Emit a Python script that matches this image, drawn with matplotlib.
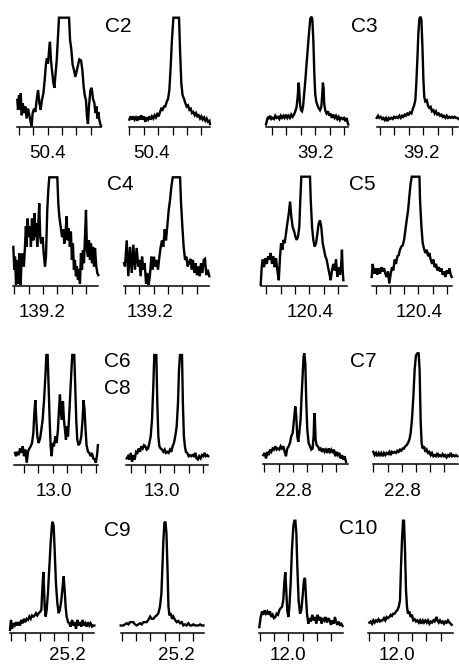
#!/usr/bin/env python3

import matplotlib
matplotlib.use("Agg")
import matplotlib.pyplot as plt

W, H = 459, 665

#-------------------------------------------------------------
# traces: (shift in tick units, height in % of panel)
# tick marks sit at 0..5 on every panel
c2_a = [(-0.12, 25), (-0.07, 16), (0.0, 29), (0.07, 16), (0.12, 31), (0.19, 11),
        (0.26, 22), (0.35, 13), (0.44, 19), (0.53, 8), (0.63, 17), (0.72, 11),
        (0.81, 5), (0.88, 1), (0.95, 13), (1.05, 17), (1.14, 14), (1.23, 25),
        (1.33, 34), (1.42, 22), (1.51, 16), (1.60, 25), (1.70, 31), (1.79, 43),
        (1.88, 58), (1.95, 63), (2.02, 58), (2.12, 74), (2.16, 78), (2.23, 61),
        (2.30, 52), (2.40, 40), (2.47, 36), (2.53, 46), (2.63, 61), (2.72, 83),
        (2.79, 100), (3.49, 100), (3.56, 80), (3.65, 71), (3.74, 57), (3.84, 52),
        (3.93, 46), (4.02, 51), (4.12, 57), (4.21, 62), (4.33, 61), (4.42, 52),
        (4.51, 37), (4.60, 28), (4.67, 25), (4.74, 10), (4.81, 3), (4.88, 19),
        (4.98, 34), (5.07, 36), (5.16, 26), (5.26, 22), (5.33, 13), (5.40, 19),
        (5.47, 8), (5.53, 14), (5.60, 7), (5.67, 3), (5.72, 1)]
c2_b = [(0.0, 7), (0.09, 10), (0.19, 7), (0.28, 10), (0.37, 7), (0.46, 9),
        (0.56, 6), (0.65, 10), (0.74, 7), (0.83, 11), (0.93, 7), (1.02, 10),
        (1.11, 5), (1.20, 9), (1.30, 7), (1.39, 10), (1.48, 7), (1.57, 10),
        (1.67, 8), (1.76, 11), (1.85, 9), (1.94, 12), (2.04, 10), (2.13, 14),
        (2.22, 17), (2.31, 16), (2.41, 19), (2.50, 19), (2.59, 23), (2.69, 26),
        (2.78, 34), (2.87, 55), (2.96, 80), (3.06, 100), (3.45, 100), (3.52, 71),
        (3.61, 40), (3.70, 29), (3.80, 26), (3.89, 22), (3.98, 19), (4.07, 20),
        (4.17, 16), (4.26, 17), (4.35, 13), (4.44, 14), (4.54, 11), (4.63, 13),
        (4.72, 10), (4.81, 11), (4.91, 8), (5.0, 10), (5.09, 7), (5.19, 9),
        (5.28, 6), (5.37, 8), (5.46, 5), (5.56, 6), (5.60, 3)]
c3_a = [(-0.39, 2), (-0.32, 6), (-0.25, 9), (-0.18, 7), (-0.11, 10), (-0.02, 7),
        (0.07, 8), (0.16, 7), (0.25, 10), (0.34, 8), (0.44, 9), (0.53, 7),
        (0.62, 10), (0.71, 8), (0.80, 10), (0.89, 8), (0.99, 11), (1.08, 8),
        (1.17, 10), (1.26, 8), (1.35, 11), (1.44, 9), (1.54, 11), (1.63, 14),
        (1.72, 18), (1.79, 27), (1.86, 40), (1.90, 33), (1.95, 21), (2.02, 15),
        (2.09, 14), (2.16, 18), (2.22, 27), (2.32, 42), (2.41, 58), (2.50, 73),
        (2.59, 88), (2.66, 98), (2.73, 100), (2.80, 98), (2.87, 79), (2.94, 48),
        (3.00, 30), (3.07, 23), (3.14, 20), (3.23, 17), (3.33, 15), (3.42, 18),
        (3.49, 30), (3.53, 40), (3.58, 35), (3.62, 21), (3.69, 15), (3.78, 12),
        (3.88, 14), (3.97, 10), (4.06, 12), (4.15, 8), (4.24, 11), (4.34, 8),
        (4.43, 10), (4.52, 7), (4.61, 9), (4.70, 6), (4.79, 8), (4.89, 7),
        (4.98, 8), (5.07, 5), (5.16, 8), (5.23, 4), (5.28, 2)]
c3_b = [(-0.23, 8), (-0.14, 10), (-0.05, 8), (0.05, 9), (0.14, 7), (0.23, 8),
        (0.32, 6), (0.41, 8), (0.51, 5), (0.60, 8), (0.69, 7), (0.78, 8),
        (0.88, 7), (0.97, 9), (1.06, 8), (1.15, 9), (1.24, 8), (1.34, 10),
        (1.43, 8), (1.52, 10), (1.61, 9), (1.71, 11), (1.80, 10), (1.89, 12),
        (1.98, 11), (2.07, 13), (2.17, 12), (2.26, 16), (2.35, 19), (2.44, 24),
        (2.51, 40), (2.58, 61), (2.65, 85), (2.72, 98), (2.79, 100), (2.86, 97),
        (2.93, 73), (3.00, 42), (3.06, 27), (3.13, 23), (3.23, 24), (3.32, 19),
        (3.41, 17), (3.50, 18), (3.59, 14), (3.69, 15), (3.78, 12), (3.87, 14),
        (3.96, 11), (4.06, 12), (4.15, 10), (4.24, 11), (4.33, 9), (4.42, 10),
        (4.52, 8), (4.61, 10), (4.70, 8), (4.79, 9), (4.88, 8), (4.98, 9),
        (5.07, 8), (5.16, 9), (5.25, 8), (5.35, 8), (5.41, 7)]
c4_a = [(-0.07, 36), (0.0, 15), (0.05, 27), (0.12, 1), (0.21, 24), (0.28, 2),
        (0.35, 30), (0.44, 1), (0.51, 24), (0.58, 30), (0.67, 18), (0.74, 35),
        (0.81, 55), (0.86, 36), (0.93, 62), (1.00, 45), (1.09, 55), (1.16, 36),
        (1.23, 62), (1.33, 42), (1.40, 67), (1.47, 45), (1.53, 58), (1.60, 36),
        (1.67, 55), (1.74, 76), (1.81, 45), (1.88, 39), (1.98, 45), (2.05, 30),
        (2.14, 18), (2.21, 27), (2.30, 70), (2.37, 88), (2.44, 100), (3.00, 100),
        (3.07, 76), (3.14, 64), (3.23, 55), (3.33, 45), (3.42, 52), (3.49, 39),
        (3.58, 50), (3.65, 64), (3.72, 42), (3.79, 53), (3.88, 36), (3.95, 50),
        (4.02, 24), (4.09, 39), (4.16, 15), (4.23, 24), (4.30, 9), (4.37, 18),
        (4.44, 6), (4.51, 15), (4.58, 2), (4.65, 30), (4.72, 15), (4.79, 33),
        (4.86, 21), (4.93, 45), (5.00, 70), (5.07, 33), (5.14, 27), (5.21, 42),
        (5.28, 24), (5.35, 39), (5.42, 21), (5.49, 36), (5.56, 18), (5.63, 35),
        (5.72, 18), (5.79, 12), (5.86, 10)]
c4_b = [(-0.07, 21), (0.0, 18), (0.12, 42), (0.23, 9), (0.35, 36), (0.47, 12),
        (0.58, 38), (0.70, 15), (0.81, 35), (0.93, 18), (1.00, 24), (1.09, 9),
        (1.19, 27), (1.28, 15), (1.37, 21), (1.47, 2), (1.56, 12), (1.65, 1),
        (1.74, 10), (1.84, 27), (1.93, 15), (2.02, 27), (2.12, 18), (2.21, 24),
        (2.30, 15), (2.40, 27), (2.49, 36), (2.58, 42), (2.67, 36), (2.77, 52),
        (2.86, 42), (2.95, 55), (3.05, 70), (3.14, 79), (3.23, 91), (3.33, 100),
        (3.84, 100), (3.91, 76), (4.00, 55), (4.09, 36), (4.19, 24), (4.28, 27),
        (4.37, 18), (4.47, 22), (4.56, 25), (4.65, 15), (4.74, 24), (4.84, 12),
        (4.93, 21), (5.02, 10), (5.12, 18), (5.21, 9), (5.30, 21), (5.40, 12),
        (5.49, 24), (5.58, 25), (5.67, 10), (5.77, 15), (5.88, 9)]
c5_a = [(-0.37, 1), (-0.30, 17), (-0.23, 24), (-0.14, 17), (-0.05, 25), (0.05, 20),
        (0.14, 27), (0.23, 24), (0.32, 30), (0.41, 20), (0.51, 27), (0.60, 17),
        (0.69, 25), (0.78, 14), (0.88, 5), (0.97, 27), (1.04, 39), (1.13, 33),
        (1.20, 42), (1.29, 39), (1.38, 48), (1.47, 57), (1.57, 66), (1.66, 77),
        (1.75, 63), (1.84, 54), (1.94, 50), (2.03, 45), (2.12, 42), (2.21, 45),
        (2.30, 54), (2.37, 79), (2.44, 100), (3.04, 100), (3.09, 79), (3.18, 54),
        (3.27, 42), (3.36, 36), (3.46, 39), (3.55, 48), (3.64, 57), (3.73, 60),
        (3.82, 54), (3.92, 39), (4.01, 33), (4.10, 27), (4.19, 24), (4.29, 17),
        (4.38, 11), (4.47, 5), (4.56, 14), (4.65, 20), (4.75, 14), (4.84, 24),
        (4.93, 8), (5.02, 17), (5.12, 10), (5.21, 22), (5.25, 33), (5.30, 14),
        (5.35, 5)]
c5_b = [(-0.28, 8), (-0.21, 20), (-0.14, 14), (-0.07, 11), (0.02, 16), (0.12, 10),
        (0.21, 16), (0.31, 11), (0.40, 17), (0.49, 13), (0.59, 16), (0.68, 11),
        (0.77, 8), (0.87, 13), (0.96, 2), (1.06, 11), (1.15, 17), (1.24, 14),
        (1.34, 24), (1.43, 20), (1.53, 27), (1.62, 28), (1.71, 33), (1.81, 36),
        (1.90, 37), (2.00, 42), (2.09, 51), (2.18, 60), (2.28, 69), (2.37, 82),
        (2.46, 94), (2.54, 100), (3.08, 100), (3.12, 79), (3.22, 54), (3.31, 39),
        (3.40, 34), (3.50, 30), (3.59, 33), (3.69, 27), (3.78, 30), (3.87, 24),
        (3.97, 20), (4.06, 24), (4.15, 17), (4.25, 20), (4.34, 14), (4.44, 17),
        (4.53, 13), (4.62, 16), (4.72, 10), (4.81, 13), (4.91, 8), (5.00, 14),
        (5.09, 11), (5.19, 16), (5.28, 10), (5.35, 8)]
c6_a = [(-0.63, 11), (-0.56, 8), (-0.47, 12), (-0.37, 9), (-0.28, 15), (-0.19, 11),
        (-0.09, 17), (0.0, 8), (0.09, 14), (0.19, 2), (0.28, 12), (0.37, 15),
        (0.47, 17), (0.56, 20), (0.65, 29), (0.72, 47), (0.79, 59), (0.86, 41),
        (0.93, 26), (1.02, 20), (1.12, 24), (1.21, 32), (1.30, 41), (1.40, 59),
        (1.49, 80), (1.56, 100), (1.65, 100), (1.72, 71), (1.79, 41), (1.86, 17),
        (1.93, 8), (2.00, 20), (2.09, 17), (2.19, 26), (2.28, 20), (2.37, 32),
        (2.44, 50), (2.51, 64), (2.58, 47), (2.65, 41), (2.72, 58), (2.79, 41),
        (2.86, 32), (2.93, 23), (3.00, 35), (3.07, 26), (3.14, 41), (3.21, 59),
        (3.30, 83), (3.37, 100), (3.51, 100), (3.58, 71), (3.65, 41), (3.72, 23),
        (3.81, 18), (3.91, 20), (4.00, 26), (4.09, 41), (4.16, 59), (4.23, 50),
        (4.30, 32), (4.37, 18), (4.47, 12), (4.56, 11), (4.65, 8), (4.74, 11),
        (4.84, 6), (4.93, 5), (5.02, 2), (5.12, 11), (5.16, 18)]
c6_b = [(-0.30, 6), (-0.21, 8), (-0.12, 5), (-0.02, 11), (0.07, 3), (0.16, 9),
        (0.25, 5), (0.35, 12), (0.44, 11), (0.53, 15), (0.62, 12), (0.71, 17),
        (0.81, 15), (0.90, 18), (0.99, 17), (1.08, 14), (1.18, 15), (1.27, 20),
        (1.36, 26), (1.45, 41), (1.54, 71), (1.61, 100), (1.75, 100), (1.82, 56),
        (1.89, 26), (1.96, 17), (2.05, 15), (2.14, 14), (2.24, 12), (2.33, 14),
        (2.42, 11), (2.51, 12), (2.60, 11), (2.70, 14), (2.79, 12), (2.88, 17),
        (2.97, 20), (3.06, 26), (3.16, 35), (3.25, 56), (3.32, 86), (3.39, 100),
        (3.53, 100), (3.59, 56), (3.66, 26), (3.73, 17), (3.80, 12), (3.89, 11),
        (3.99, 8), (4.08, 9), (4.17, 8), (4.26, 9), (4.35, 8), (4.45, 11),
        (4.54, 6), (4.63, 5), (4.72, 8), (4.82, 6), (4.91, 9), (5.00, 8),
        (5.09, 11), (5.18, 8), (5.28, 9), (5.35, 8)]
c7_a = [(-0.07, 8), (0.02, 10), (0.12, 5), (0.21, 11), (0.30, 8), (0.40, 13),
        (0.49, 11), (0.58, 14), (0.67, 13), (0.77, 16), (0.86, 13), (0.95, 14),
        (1.05, 13), (1.14, 16), (1.23, 14), (1.33, 16), (1.42, 11), (1.51, 7),
        (1.60, 14), (1.70, 16), (1.79, 19), (1.88, 25), (1.98, 28), (2.07, 40),
        (2.16, 52), (2.23, 43), (2.30, 25), (2.37, 20), (2.44, 28), (2.53, 40),
        (2.60, 61), (2.67, 79), (2.74, 97), (2.79, 100), (2.86, 91), (2.93, 55),
        (3.00, 31), (3.09, 19), (3.19, 16), (3.28, 13), (3.37, 14), (3.44, 25),
        (3.49, 46), (3.53, 40), (3.58, 22), (3.65, 17), (3.74, 16), (3.84, 13),
        (3.93, 14), (4.02, 11), (4.12, 14), (4.21, 11), (4.30, 13), (4.40, 10),
        (4.49, 14), (4.58, 11), (4.67, 13), (4.77, 10), (4.86, 13), (4.95, 7),
        (5.05, 11), (5.14, 8), (5.23, 10), (5.33, 5), (5.42, 8), (5.51, 4),
        (5.60, 7), (5.70, 2)]
c7_b = [(0.00, 11), (0.09, 8), (0.19, 10), (0.28, 7), (0.38, 10), (0.47, 8),
        (0.56, 10), (0.66, 7), (0.75, 10), (0.85, 8), (0.94, 10), (1.03, 9),
        (1.13, 11), (1.22, 8), (1.31, 11), (1.41, 10), (1.50, 11), (1.60, 10),
        (1.69, 12), (1.78, 11), (1.88, 13), (1.97, 12), (2.07, 14), (2.16, 14),
        (2.25, 16), (2.35, 17), (2.44, 19), (2.54, 22), (2.63, 28), (2.72, 40),
        (2.82, 61), (2.91, 85), (3.00, 98), (3.10, 100), (3.19, 100), (3.26, 85),
        (3.33, 40), (3.40, 19), (3.47, 14), (3.57, 16), (3.66, 11), (3.76, 13),
        (3.85, 10), (3.94, 11), (4.04, 8), (4.13, 10), (4.23, 7), (4.32, 8),
        (4.41, 7), (4.51, 10), (4.60, 7), (4.69, 8), (4.79, 7), (4.88, 9),
        (4.98, 7), (5.07, 8), (5.16, 6), (5.26, 8), (5.35, 7), (5.45, 10),
        (5.54, 7), (5.63, 8), (5.73, 7), (5.82, 8), (5.92, 7)]
c9_a = [(-0.07, 3), (0.00, 12), (0.07, 4), (0.16, 9), (0.26, 7), (0.35, 10),
        (0.44, 7), (0.54, 10), (0.63, 7), (0.72, 12), (0.82, 9), (0.91, 13),
        (1.00, 10), (1.10, 13), (1.19, 12), (1.29, 15), (1.38, 13), (1.47, 16),
        (1.57, 15), (1.66, 16), (1.75, 18), (1.85, 16), (1.94, 18), (2.03, 19),
        (2.13, 21), (2.17, 33), (2.22, 45), (2.27, 55), (2.31, 42), (2.36, 24),
        (2.43, 15), (2.50, 21), (2.59, 36), (2.69, 60), (2.78, 81), (2.87, 97),
        (2.92, 100), (2.99, 96), (3.06, 75), (3.15, 45), (3.25, 27), (3.34, 18),
        (3.43, 21), (3.53, 30), (3.62, 42), (3.69, 51), (3.76, 39), (3.83, 24),
        (3.90, 15), (4.00, 10), (4.09, 9), (4.18, 6), (4.28, 12), (4.37, 7),
        (4.46, 10), (4.56, 4), (4.65, 12), (4.74, 7), (4.84, 10), (4.93, 6),
        (5.02, 12), (5.12, 7), (5.21, 9), (5.30, 6), (5.40, 10), (5.49, 7),
        (5.58, 9), (5.68, 6), (5.77, 7), (5.84, 7)]
c9_b = [(-0.07, 7), (0.00, 7), (0.12, 7), (0.23, 8), (0.35, 9), (0.47, 8),
        (0.58, 10), (0.70, 10), (0.81, 10), (0.93, 8), (1.05, 7), (1.16, 8),
        (1.28, 9), (1.40, 8), (1.51, 10), (1.63, 10), (1.74, 10), (1.86, 12),
        (1.98, 15), (2.09, 13), (2.21, 13), (2.33, 15), (2.44, 16), (2.56, 18),
        (2.67, 24), (2.77, 36), (2.84, 60), (2.91, 84), (2.98, 99), (3.05, 100),
        (3.12, 90), (3.19, 60), (3.26, 24), (3.33, 16), (3.42, 18), (3.51, 13),
        (3.60, 15), (3.72, 12), (3.84, 10), (3.95, 11), (4.07, 9), (4.19, 10),
        (4.30, 7), (4.42, 8), (4.53, 7), (4.65, 9), (4.77, 7), (4.88, 7),
        (5.00, 8), (5.12, 7), (5.23, 7), (5.35, 7), (5.47, 8), (5.58, 7),
        (5.70, 7)]
c10_a = [(-0.05, 5), (0.05, 14), (0.14, 19), (0.23, 16), (0.33, 20), (0.42, 17),
         (0.52, 19), (0.61, 16), (0.70, 19), (0.80, 14), (0.89, 16), (0.99, 13),
         (1.08, 14), (1.17, 17), (1.27, 16), (1.36, 20), (1.46, 22), (1.55, 23),
         (1.64, 29), (1.71, 44), (1.78, 54), (1.85, 38), (1.92, 20), (2.00, 14),
         (2.07, 23), (2.16, 44), (2.25, 74), (2.35, 95), (2.42, 100), (2.49, 100),
         (2.56, 89), (2.63, 59), (2.72, 29), (2.82, 17), (2.91, 20), (3.00, 32),
         (3.10, 47), (3.17, 49), (3.24, 32), (3.31, 17), (3.40, 8), (3.50, 13),
         (3.59, 10), (3.69, 16), (3.78, 11), (3.87, 14), (3.97, 8), (4.06, 16),
         (4.15, 11), (4.25, 14), (4.34, 8), (4.44, 13), (4.53, 11), (4.62, 14),
         (4.72, 9), (4.81, 13), (4.91, 11), (5.00, 7), (5.09, 11), (5.19, 8),
         (5.28, 14), (5.35, 10), (5.45, 7), (5.54, 10), (5.63, 7), (5.73, 8),
         (5.82, 6)]
c10_b = [(0.00, 9), (0.09, 10), (0.19, 8), (0.28, 11), (0.37, 9), (0.47, 11),
         (0.56, 10), (0.65, 12), (0.75, 10), (0.84, 11), (0.93, 11), (1.03, 13),
         (1.12, 11), (1.21, 14), (1.31, 13), (1.40, 14), (1.50, 16), (1.59, 15),
         (1.68, 17), (1.78, 17), (1.87, 19), (1.96, 20), (2.06, 23), (2.15, 29),
         (2.22, 59), (2.29, 83), (2.36, 100), (2.43, 100), (2.50, 74), (2.57, 38),
         (2.64, 23), (2.71, 17), (2.80, 19), (2.90, 14), (2.99, 16), (3.08, 11),
         (3.18, 12), (3.27, 10), (3.36, 11), (3.46, 9), (3.55, 11), (3.64, 8),
         (3.74, 11), (3.83, 9), (3.93, 11), (4.02, 9), (4.11, 11), (4.21, 8),
         (4.30, 10), (4.39, 9), (4.49, 11), (4.58, 10), (4.67, 13), (4.72, 14),
         (4.77, 11), (4.86, 9), (4.95, 11), (5.05, 9), (5.14, 10), (5.23, 8),
         (5.33, 10), (5.42, 9), (5.51, 11), (5.61, 9), (5.70, 8), (5.77, 7)]

# tick labels under each trace and carbon names
shift_labels = ["50.4", "50.4", "39.2", "39.2", "139.2", "139.2", "120.4", "120.4",
                "13.0", "13.0", "22.8", "22.8", "25.2", "25.2", "12.0", "12.0"]
carbon_labels = ["C2", "C3", "C4", "C5", "C6", "C8", "C7", "C9", "C10"]

#-------------------------------------------------------------
def px_axes(fig, x0, x1, ybase, ytop):
    # rectangle given in image pixels (origin top left)
    return fig.add_axes([x0 / W, 1 - ybase / H, (x1 - x0) / W, (ybase - ytop) / H])

#-------------------------------------------------------------
def draw_trace(ax, trace, xlim):
    t = [p[0] for p in trace]
    h = [p[1] for p in trace]
    ax.plot(t, h, color="black", lw=1.7, solid_joinstyle="miter", clip_on=False)
    ax.set_xlim(*xlim)
    ax.set_ylim(0, 100)
    for s in ["left", "top", "right"]:
        ax.spines[s].set_visible(False)
    ax.spines["bottom"].set_linewidth(1.1)
    ax.set_xticks(range(6))
    ax.set_xticklabels([])
    ax.set_yticks([])
    ax.tick_params(axis="x", direction="out", length=6, width=0.9)
    ax.patch.set_alpha(0)

#-------------------------------------------------------------
def main():
    plt.rcParams["font.family"] = ["Liberation Sans", "DejaVu Sans"]
    fig = plt.figure(figsize=(W / 100, H / 100), dpi=100)

    # trace, axis start/end px, axis y px, top px, x limits (tick units)
    panels = [
        (c2_a, 17.3, 101.0, 127.3, 17.7, (-0.12, 5.72)),
        (c2_b, 129.3, 210.0, 127.3, 17.7, (0.0, 5.6)),
        (c3_a, 266.0, 348.3, 126.7, 16.7, (-0.39, 5.28)),
        (c3_b, 376.7, 458.3, 126.7, 16.7, (-0.23, 5.41)),
        (c4_a, 13.3, 98.3, 286.0, 177.3, (-0.07, 5.86)),
        (c4_b, 124.0, 209.3, 286.0, 177.3, (-0.07, 5.88)),
        (c5_a, 260.7, 347.3, 285.7, 176.7, (-0.37, 5.62)),
        (c5_b, 371.7, 451.7, 285.7, 176.7, (-0.28, 5.35)),
        (c6_a, 14.0, 98.3, 465.0, 355.0, (-0.70, 5.19)),
        (c6_b, 126.0, 208.3, 465.0, 355.0, (-0.35, 5.35)),
        (c7_a, 263.3, 348.3, 464.0, 353.3, (-0.07, 5.86)),
        (c7_b, 373.3, 457.7, 464.0, 353.3, (0.0, 5.94)),
        (c9_a, 10.0, 94.3, 633.3, 521.7, (-0.07, 5.84)),
        (c9_b, 120.7, 204.0, 633.3, 521.7, (-0.07, 5.74)),
        (c10_a, 259.3, 343.3, 632.7, 520.7, (-0.05, 5.87)),
        (c10_b, 368.3, 452.7, 632.7, 520.7, (-0.07, 5.84)),
    ]
    for trace, x0, x1, yb, yt, xlim in panels:
        ax = px_axes(fig, x0, x1, yb, yt)
        draw_trace(ax, trace, xlim)

    # shift labels, centre in px
    shift_pos = [(48, 153), (152, 153), (316, 153), (422, 153),
                 (42, 313), (150, 313), (310, 313), (419, 313),
                 (54, 491), (162, 491), (293, 491), (402, 491),
                 (67, 655.5), (176, 655.5), (288, 655.5), (397, 655.5)]
    for lab, (x, y) in zip(shift_labels, shift_pos):
        fig.text(x / W, 1 - y / H, lab, fontsize=13.5, ha="center", va="center")

    carbon_pos = [(118, 26), (364, 26), (120, 185), (362, 185),
                  (117, 362), (117, 389), (363, 362), (117, 530), (358, 529)]
    for lab, (x, y) in zip(carbon_labels, carbon_pos):
        fig.text(x / W, 1 - y / H, lab, fontsize=15, ha="center", va="center")

    fig.savefig("out.png", dpi=100)
    plt.close(fig)

#-------------------------------------------------------------
if __name__ == "__main__":
    main()
